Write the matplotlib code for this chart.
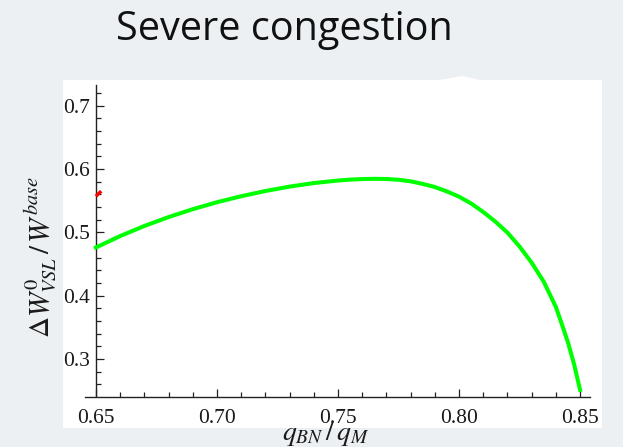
import matplotlib
matplotlib.use("Agg")
import matplotlib.pyplot as plt
from matplotlib.patches import Rectangle, Polygon
from matplotlib.ticker import MultipleLocator, FixedLocator

# ---- data ----
q_ratio = [0.650, 0.660, 0.670, 0.680, 0.690, 0.700, 0.710, 0.720, 0.730,
           0.740, 0.750, 0.755, 0.760, 0.765, 0.770, 0.775, 0.780, 0.785,
           0.790, 0.795, 0.800, 0.805, 0.810, 0.815, 0.820, 0.825, 0.830,
           0.835, 0.840, 0.8425, 0.845, 0.8475, 0.850]
welfare = [0.476, 0.494, 0.510, 0.524, 0.5365, 0.5475, 0.557, 0.5652, 0.5722,
           0.5778, 0.5818, 0.5832, 0.5841, 0.5845, 0.5842, 0.5830, 0.5805, 0.5765,
           0.5715, 0.5645, 0.5563, 0.5455, 0.5321, 0.5169, 0.4995, 0.4775, 0.452,
           0.422, 0.382, 0.3545, 0.326, 0.292, 0.251]
red_q = [0.6500, 0.6522]
red_w = [0.557, 0.565]

x_ticks = [0.65, 0.70, 0.75, 0.80, 0.85]
x_tick_labels = ["0.65", "0.70", "0.75", "0.80", "0.85"]
y_ticks = [0.3, 0.4, 0.5, 0.6, 0.7]
y_tick_labels = ["0.3", "0.4", "0.5", "0.6", "0.7"]

title = "Severe congestion"

W, H = 623, 447
fig = plt.figure(figsize=(W / 100, H / 100), dpi=100)
fig.patch.set_facecolor("#edf0f3")

# white slide panel
fig.patches.append(Rectangle((63 / W, 1 - 428 / H), 539 / W, 348 / H,
                             transform=fig.transFigure, facecolor="white",
                             edgecolor="none", zorder=-2))
fig.patches.append(Polygon([(440 / W, 1 - 80 / H), (462 / W, 1 - 76 / H),
                            (480 / W, 1 - 80 / H)], closed=True,
                           transform=fig.transFigure, facecolor="white",
                           edgecolor="none", zorder=-2))

ax = fig.add_axes([85 / W, 1 - 396.5 / H, 505 / W, 311.5 / H])
ax.set_facecolor("none")
ax.set_xlim(0.6455, 0.8541)
ax.set_ylim(0.2406, 0.7327)

ax.plot(red_q, red_w, color="red", lw=2.5, solid_capstyle="butt", zorder=3)
ax.plot(q_ratio, welfare, color="#00ff00", lw=2.9, zorder=4,
        solid_joinstyle="round")

for s in ("top", "right"):
    ax.spines[s].set_visible(False)
ax.spines["left"].set_position(("data", 0.65))
for s in ("left", "bottom"):
    ax.spines[s].set_color("#222222")
    ax.spines[s].set_linewidth(1.0)

ax.xaxis.set_major_locator(FixedLocator(x_ticks))
ax.set_xticklabels(x_tick_labels)
ax.xaxis.set_minor_locator(MultipleLocator(0.01))
ax.yaxis.set_major_locator(FixedLocator(y_ticks))
ax.set_yticklabels(y_tick_labels)
ax.yaxis.set_minor_locator(MultipleLocator(0.02))

ax.tick_params(which="both", direction="in", color="#222222", width=0.9)
ax.tick_params(which="major", length=6)
ax.tick_params(which="minor", length=3.5)
ax.tick_params(axis="x", which="major", pad=9)
ax.tick_params(axis="y", which="major", pad=4)
for lab in ax.get_xticklabels() + ax.get_yticklabels():
    lab.set_fontfamily("Liberation Serif")
    lab.set_fontsize(15.5)
    lab.set_color("#1a1a1a")

plt.rcParams["mathtext.fontset"] = "stix"
fig.text(326 / W, 1 - 433 / H, r"$q_{BN}\,/\,q_{M}$", ha="center",
         va="center", fontsize=20, color="#1a1a1a")
fig.text(40 / W, 1 - 257 / H, r"$\Delta W^{0}_{VSL}\,/\,W^{base}$",
         ha="center", va="center", rotation=90, fontsize=21, color="#1a1a1a")

fig.text(284 / W, 1 - 30 / H, title, ha="center", va="center",
         fontsize=28.5, fontfamily="Open Sans", color="#111111")

fig.savefig("out.png", dpi=100, facecolor=fig.get_facecolor())
